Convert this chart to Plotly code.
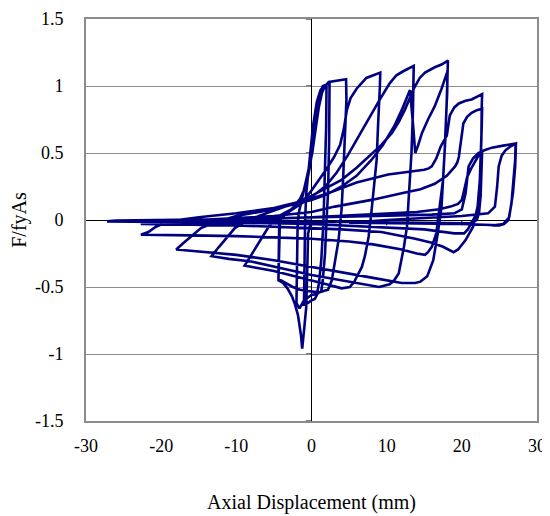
import plotly.graph_objects as go

# ---- data (displacement mm, normalised force F/fyAs) ----
c0_x = [0.0, -0.45, -0.6, -0.7, -0.95, -1.24, -1.4, -1.6, -1.8, -2.2, -2.6, -3.2, -3.8, -4.4]
c0_y = [0.0, -0.1, -0.45, -0.65, -0.8, -0.96, -0.86, -0.77, -0.71, -0.63, -0.57, -0.51, -0.47, -0.45]

t1_x = [-4.35, -4.3, -4.2, -3.5, -2.5, -1.5, -0.7, -0.2, 0.3, 0.7, 1.1, 1.5, 2.0]
t1_y = [-0.3, -0.12, 0.0, 0.04, 0.09, 0.16, 0.26, 0.4, 0.6, 0.8, 0.94, 1.0, 1.01]

c1_x = [1.95, 1.8, 1.6, 1.3, 1.0, 0.7, 0.44, 0.0, -0.5, -1.0]
c1_y = [0.7, 0.3, 0.0, -0.3, -0.47, -0.56, -0.59, -0.6, -0.62, -0.63]

t2_x = [-0.95, -0.85, -0.7, -0.3, 0.2, 0.7, 1.2, 1.6, 2.0, 2.4]
t2_y = [-0.3, 0.0, 0.2, 0.45, 0.7, 0.88, 0.97, 1.0, 1.01, 1.02]

c2_x = [2.35, 2.2, 2.0, 1.8, 1.5, 1.3, 0.8, 0.0, -1.0, -1.6, -2.0]
c2_y = [0.6, 0.2, 0.0, -0.25, -0.45, -0.53, -0.55, -0.56, -0.6, -0.66, -0.62]

t3_x = [-1.95, -1.85, -1.7, -1.3, -0.6, 0.1, 0.6, 1.0, 1.4, 1.8, 2.3, 3.0, 3.8, 4.6]
t3_y = [-0.3, -0.05, 0.05, 0.15, 0.3, 0.5, 0.7, 0.85, 0.95, 1.0, 1.03, 1.035, 1.04, 1.05]

c3_x = [4.65, 4.5, 4.4, 4.2, 4.0, 3.6, 3.3, 3.0, 2.7, 2.2, 1.0, -0.5, -1.5, -2.5, -3.5, -4.4]
c3_y = [0.9, 0.75, 0.57, 0.3, 0.08, -0.15, -0.25, -0.36, -0.45, -0.52, -0.54, -0.53, -0.52, -0.5, -0.47, -0.44]

t4_x = [-4.35, -4.3, -4.1, -3.0, -2.0, -1.0, 0.0, 1.0, 2.0, 3.0, 3.8, 4.3, 4.7, 5.2, 6.0, 7.3, 8.2, 9.15]
t4_y = [-0.25, -0.05, 0.02, 0.06, 0.1, 0.15, 0.22, 0.3, 0.38, 0.47, 0.56, 0.68, 0.82, 0.91, 0.98, 1.06, 1.08, 1.10]

c4_x = [9.1, 9.0, 8.85, 8.67, 8.3, 8.0, 7.6, 7.1, 6.7, 6.2, 5.7, 5.1, 4.0, 2.0, 0.0, -2.7, -5.0, -7.0, -8.9]
c4_y = [1.0, 0.9, 0.7, 0.45, 0.22, 0.075, -0.125, -0.27, -0.35, -0.41, -0.46, -0.5, -0.51, -0.48, -0.45, -0.41, -0.38, -0.36, -0.34]

t5_x = [-8.0, -7.0, -5.8, -5.0, -4.0, -2.0, 0.0, 2.0, 3.3, 4.8, 6.0, 7.2, 8.2, 9.1, 10.4, 11.3, 12.2, 13.6]
t5_y = [-0.26, -0.17, -0.06, 0.0, 0.04, 0.1, 0.17, 0.26, 0.35, 0.48, 0.6, 0.72, 0.82, 0.9, 1.02, 1.08, 1.11, 1.15]

c5_x = [13.55, 13.5, 13.3, 13.0, 12.7, 12.3, 12.0, 11.6, 11.0, 10.4, 9.0, 6.0, 3.0, 0.0, -4.0, -8.0, -11.0, -13.3]
c5_y = [1.0, 0.82, 0.5, 0.2, -0.05, -0.2, -0.3, -0.4, -0.45, -0.48, -0.5, -0.47, -0.44, -0.41, -0.36, -0.31, -0.29, -0.27]

t6_x = [-12.3, -11.2, -10.2, -9.0, -7.0, -5.0, -2.0, 0.0, 2.0, 4.0, 6.0, 7.8, 9.3, 10.7, 11.6, 12.4, 13.1, 13.7, 14.4, 15.1, 16.4, 17.3, 18.15]
t6_y = [-0.2, -0.13, -0.06, -0.02, 0.03, 0.07, 0.13, 0.18, 0.24, 0.3, 0.39, 0.48, 0.56, 0.65, 0.73, 0.82, 0.91, 0.99, 1.06, 1.10, 1.14, 1.16, 1.19]

c6_x = [18.1, 18.0, 17.8, 17.6, 17.3, 16.8, 16.2, 15.4, 14.5, 13.8, 12.0, 8.0, 4.0, 0.0, -5.0, -10.0, -14.0, -18.0]
c6_y = [1.05, 0.9, 0.6, 0.4, 0.1, -0.1, -0.3, -0.42, -0.46, -0.47, -0.47, -0.43, -0.39, -0.35, -0.3, -0.26, -0.24, -0.22]

t7_x = [-17.0, -15.8, -14.7, -13.0, -10.0, -5.0, 0.0, 2.0, 4.0, 6.0, 8.0, 9.5, 11.0, 12.0, 12.7, 13.1, 13.5, 13.8, 14.2, 14.7, 15.5, 16.4, 17.3, 18.1]
t7_y = [-0.17, -0.11, -0.06, -0.02, 0.03, 0.08, 0.15, 0.19, 0.25, 0.33, 0.45, 0.56, 0.7, 0.82, 0.92, 0.97, 0.72, 0.5, 0.56, 0.65, 0.75, 0.85, 0.98, 1.11]

c7_x = [18.05, 17.9, 17.7, 17.5, 17.0, 16.6, 16.0, 15.5, 15.1, 14.0, 12.0, 8.0, 5.0, 0.0, -5.0, -10.0, -16.0, -22.7]
c7_y = [0.95, 0.8, 0.5, 0.3, 0.05, -0.1, -0.2, -0.24, -0.26, -0.25, -0.22, -0.18, -0.16, -0.14, -0.13, -0.12, -0.115, -0.11]

t8_x = [-21.7, -20.7, -19.0, -15.0, -10.0, -5.0, -2.0, 0.0, 2.2, 6.0, 10.2, 13.0, 15.0, 15.6, 16.0, 16.6, 17.2, 17.7, 18.0, 18.4, 19.0, 19.6, 20.5, 21.3, 22.0, 22.7]
t8_y = [-0.09, -0.05, -0.01, 0.02, 0.05, 0.09, 0.13, 0.16, 0.2, 0.28, 0.34, 0.36, 0.375, 0.385, 0.4, 0.46, 0.55, 0.6, 0.63, 0.78, 0.84, 0.87, 0.89, 0.9, 0.92, 0.94]

c8_x = [22.65, 22.6, 22.4, 22.1, 21.5, 20.5, 19.5, 18.9, 17.5, 16.0, 13.8, 9.3, 4.0, 0.0, -5.0, -10.0, -16.0, -22.7]
c8_y = [0.85, 0.6, 0.3, 0.1, -0.05, -0.15, -0.22, -0.24, -0.2, -0.17, -0.14, -0.09, -0.07, -0.06, -0.05, -0.04, -0.035, -0.03]

t9_x = [-22.0, -15.0, -5.0, 0.0, 3.1, 8.0, 12.0, 14.5, 16.4, 18.0, 19.1, 19.4, 19.6, 19.9, 20.2, 20.7, 21.3, 22.0, 22.7]
t9_y = [-0.01, 0.0, 0.03, 0.06, 0.1, 0.15, 0.2, 0.23, 0.27, 0.33, 0.4, 0.43, 0.47, 0.6, 0.72, 0.77, 0.8, 0.82, 0.83]

c9_x = [22.65, 22.5, 22.3, 22.0, 21.5, 20.8, 20.3, 19.0, 15.0, 8.0, 0.0, -10.0, -20.0, -27.2]
c9_y = [0.7, 0.4, 0.15, 0.05, 0.0, -0.07, -0.1, -0.1, -0.07, -0.05, -0.03, -0.02, -0.015, -0.01]

t10_x = [-26.0, -15.0, -5.0, 0.0, 8.0, 14.0, 17.0, 18.5, 19.5, 20.0, 20.3, 20.7, 21.2, 21.6, 22.1, 22.7]
t10_y = [-0.005, 0.0, 0.01, 0.02, 0.04, 0.06, 0.08, 0.1, 0.12, 0.15, 0.22, 0.32, 0.38, 0.42, 0.47, 0.51]

c10_x = [22.65, 22.5, 22.3, 22.0, 21.0, 15.0, 5.0, -5.0, -15.0, -27.2]
c10_y = [0.35, 0.18, 0.06, 0.0, -0.025, -0.02, -0.015, -0.012, -0.01, -0.01]

t11_x = [-26.0, -15.0, 0.0, 10.0, 16.0, 19.0, 20.0, 20.5, 20.9, 21.5, 22.2, 23.0, 24.0, 25.5, 27.15]
t11_y = [-0.005, 0.0, 0.02, 0.03, 0.04, 0.05, 0.08, 0.2, 0.4, 0.46, 0.5, 0.52, 0.54, 0.555, 0.57]

c11_x = [27.1, 26.9, 26.6, 26.2, 25.6, 25.0, 24.4, 23.0, 20.0, 15.0, 5.0]
c11_y = [0.45, 0.3, 0.12, 0.0, -0.03, -0.04, -0.04, -0.035, -0.03, -0.025, -0.02]

t12_x = [10.0, 20.0, 23.5, 24.4, 24.7, 24.9, 25.3, 25.8, 26.5, 27.2]
t12_y = [0.0, 0.03, 0.05, 0.1, 0.25, 0.4, 0.48, 0.52, 0.55, 0.57]

c12_x = [27.1, 26.8, 26.3, 25.5, 24.4, 24.0]
c12_y = [0.4, 0.2, 0.02, -0.03, -0.04, -0.04]

x_tick_vals = [-30, -20, -10, 0, 10, 20, 30]
x_tick_text = ["-30", "-20", "-10", "0", "10", "20", "30"]
y_tick_vals = [-1.5, -1, -0.5, 0, 0.5, 1, 1.5]
y_tick_text = ["-1.5", "-1", "-0.5", "0", "0.5", "1", "1.5"]

segments_x = [c0_x, t1_x, c1_x, t2_x, c2_x, t3_x, c3_x, t4_x, c4_x, t5_x, c5_x,
              t6_x, c6_x, t7_x, c7_x, t8_x, c8_x, t9_x, c9_x, t10_x, c10_x,
              t11_x, c11_x, t12_x, c12_x]
segments_y = [c0_y, t1_y, c1_y, t2_y, c2_y, t3_y, c3_y, t4_y, c4_y, t5_y, c5_y,
              t6_y, c6_y, t7_y, c7_y, t8_y, c8_y, t9_y, c9_y, t10_y, c10_y,
              t11_y, c11_y, t12_y, c12_y]

disp = [v for seg in segments_x for v in seg]
force = [v for seg in segments_y for v in seg]

FONT = "Liberation Serif, Times New Roman, serif"

fig = go.Figure()
fig.add_trace(go.Scatter(
    x=disp, y=force, mode="lines",
    line=dict(color="#000080", width=2.6),
    hoverinfo="skip", showlegend=False,
))

# small tick marks on the zero axes (Excel style)
shapes = []
for v in y_tick_vals:
    shapes.append(dict(type="line", xref="x", yref="y", x0=-0.75, x1=0, y0=v, y1=v,
                       line=dict(color="black", width=1), layer="below"))
for v in x_tick_vals[1:-1]:
    shapes.append(dict(type="line", xref="x", yref="y", x0=v, x1=v, y0=0, y1=-0.04,
                       line=dict(color="black", width=1), layer="below"))

fig.update_layout(
    width=542, height=508,
    margin=dict(l=78, r=13, t=11, b=95),
    paper_bgcolor="white", plot_bgcolor="white",
    font=dict(family=FONT, size=18, color="black"),
    shapes=shapes,
    showlegend=False,
)
fig.update_xaxes(
    range=[-30, 30], tickvals=x_tick_vals, ticktext=x_tick_text,
    showgrid=False, zeroline=True, zerolinecolor="black", zerolinewidth=1,
    showline=True, mirror=True, linecolor="#8c8c8c", linewidth=2,
    ticks="", ticklabelstandoff=7, automargin=False,
    tickfont=dict(family=FONT, size=18, color="black"),
    title=dict(text="Axial Displacement (mm)", standoff=40,
               font=dict(family=FONT, size=20, color="black")),
)
fig.update_yaxes(
    range=[-1.5, 1.5], tickvals=y_tick_vals, ticktext=y_tick_text,
    showgrid=True, gridcolor="#8c8c8c", gridwidth=1,
    zeroline=True, zerolinecolor="black", zerolinewidth=1,
    showline=True, mirror=True, linecolor="#8c8c8c", linewidth=2,
    ticks="", ticklabelstandoff=17, automargin=False,
    tickfont=dict(family=FONT, size=18, color="black"),
    title=dict(text="F/fyAs", standoff=5,
               font=dict(family=FONT, size=20, color="black")),
)

fig.write_html("out.html")
